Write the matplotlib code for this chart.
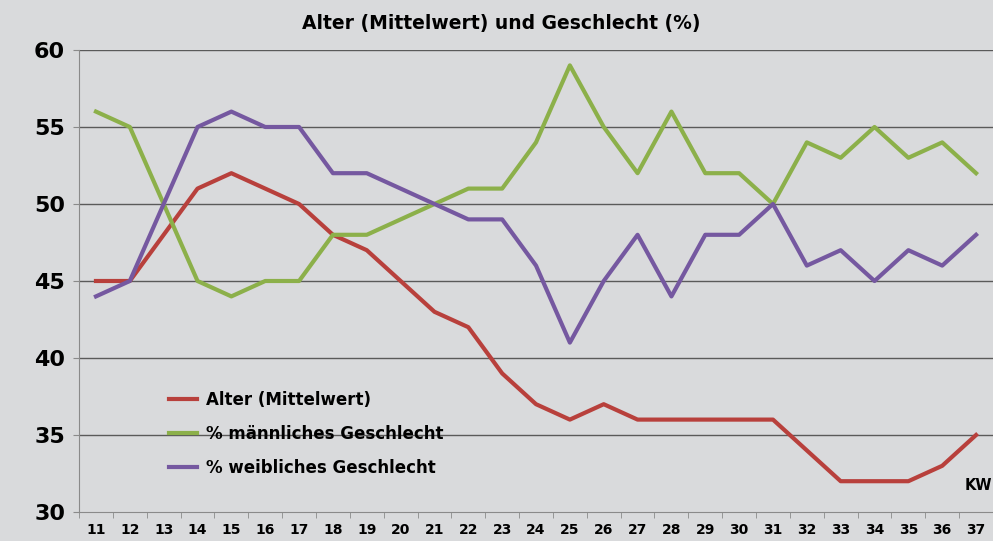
import matplotlib.pyplot as plt
from matplotlib.ticker import MultipleLocator

kw = list(range(11, 38))
alter = [45, 45, 48, 51, 52, 51, 50, 48, 47, 45, 43, 42, 39, 37, 36, 37, 36, 36, 36, 36, 36, 34, 32, 32, 32, 33, 35]
maennlich = [56, 55, 50, 45, 44, 45, 45, 48, 48, 49, 50, 51, 51, 54, 59, 55, 52, 56, 52, 52, 50, 54, 53, 55, 53, 54, 52]
weiblich = [44, 45, 50, 55, 56, 55, 55, 52, 52, 51, 50, 49, 49, 46, 41, 45, 48, 44, 48, 48, 50, 46, 47, 45, 47, 46, 48]
labels = ['Alter (Mittelwert)', '% männliches Geschlecht', '% weibliches Geschlecht']

bg = '#d9dadc'
fig = plt.figure(figsize=(9.93, 5.41), dpi=100, facecolor=bg)
ax = fig.add_axes([0.0796, 0.0536, 0.9204, 0.854])
ax.set_facecolor(bg)

for y in [35, 40, 45, 50, 55, 60]:
    ax.axhline(y, color='#5a5a5a', lw=1, zorder=1)

ax.plot(kw, alter, color='#b8403c', lw=3, label=labels[0], zorder=3)
ax.plot(kw, maennlich, color='#8cb04a', lw=3, label=labels[1], zorder=3)
ax.plot(kw, weiblich, color='#7558a0', lw=3, label=labels[2], zorder=3)

ax.set_xlim(10.5, 37.5)
ax.set_ylim(30, 60)
ax.set_xticks(kw)
ax.set_xticklabels([str(k) for k in kw], fontsize=10, fontweight='bold')
ax.xaxis.set_minor_locator(MultipleLocator(1, offset=0.5))
ax.tick_params(axis='x', which='major', length=0, pad=8)
ax.tick_params(axis='x', which='minor', length=4, color='#8a8a8a', direction='out')
ax.set_yticks([30, 35, 40, 45, 50, 55, 60])
ax.tick_params(axis='y', labelsize=16, length=4, color='#8a8a8a', pad=6)
for t in ax.get_yticklabels():
    t.set_fontweight('bold')

for s in ['top', 'right']:
    ax.spines[s].set_visible(False)
ax.spines['left'].set_color('#8a8a8a')
ax.spines['bottom'].set_color('#8a8a8a')

leg = ax.legend(loc='upper left', bbox_to_anchor=(0.098, 0.262), frameon=False,
                prop={'weight': 'bold', 'size': 12}, handlelength=1.7,
                handletextpad=0.55, labelspacing=0.95, borderpad=0, borderaxespad=0)
for h in leg.get_lines():
    h.set_linewidth(3)

ax.text(0.984, 0.057, 'KW', transform=ax.transAxes, ha='center', va='center',
        fontsize=10.5, fontweight='bold')
fig.text(0.505, 0.957, 'Alter (Mittelwert) und Geschlecht (%)', ha='center', va='center',
         fontsize=13.5, fontweight='bold')

plt.savefig('out.png', dpi=100, facecolor=bg)
